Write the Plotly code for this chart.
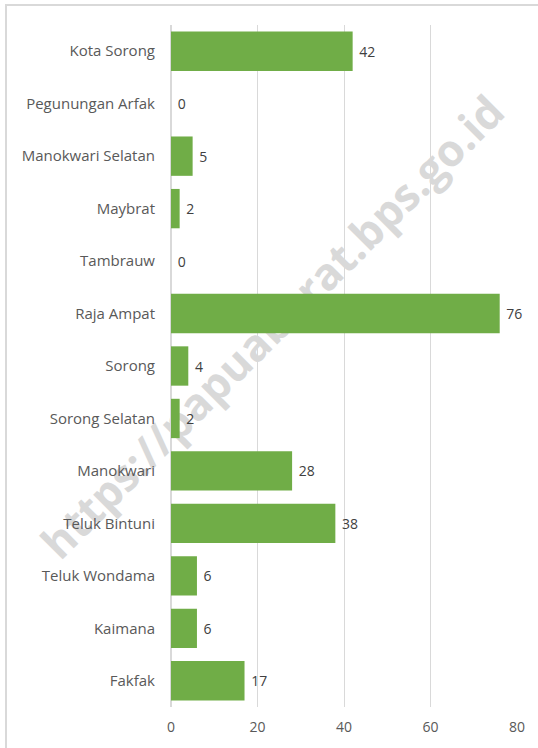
import plotly.graph_objects as go

kabupaten = ['Kota Sorong', 'Pegunungan Arfak', 'Manokwari Selatan', 'Maybrat', 'Tambrauw',
             'Raja Ampat', 'Sorong', 'Sorong Selatan', 'Manokwari', 'Teluk Bintuni',
             'Teluk Wondama', 'Kaimana', 'Fakfak']
jumlah = [42, 0, 5, 2, 0, 76, 4, 2, 28, 38, 6, 6, 17]
x_ticks = [0, 20, 40, 60, 80]

W, H = 538, 748
L, R, T, B = 171, 21, 25, 41
pw, ph = W - L - R, H - T - B


def px2paper(x, y):
    return (x - L) / pw, (H - B - y) / ph


fig = go.Figure(go.Bar(
    x=jumlah, y=kabupaten, orientation='h',
    marker=dict(color='#70ad47', line=dict(color='#ffffff', width=0)),
    text=jumlah, texttemplate=' %{text}', textposition='outside', cliponaxis=False,
    textfont=dict(size=14, color='#404040'),
))

fig.update_layout(
    width=W, height=H,
    margin=dict(l=L, r=R, t=T, b=B, autoexpand=False),
    paper_bgcolor='white', plot_bgcolor='rgba(0,0,0,0)',
    font=dict(family='Open Sans', size=14, color='#595959'),
    bargap=0.25, showlegend=False,
    xaxis=dict(range=[0, 80], tickvals=x_ticks, showgrid=True, gridcolor='#d9d9d9',
               gridwidth=1, zeroline=True, zerolinecolor='#d9d9d9', showline=False,
               automargin=False, ticklabelstandoff=10,
               tickfont=dict(size=14, color='#595959')),
    yaxis=dict(autorange='reversed', showgrid=False, automargin=False, ticklabelstandoff=15,
               tickfont=dict(size=15, color='#595959')),
)

# bingkai grafik
x0, y0 = px2paper(6, H + 5)
x1, y1 = px2paper(W + 5, 5)
fig.add_shape(type='rect', xref='paper', yref='paper', x0=x0, x1=x1, y0=y0, y1=y1,
              line=dict(color='#d9d9d9', width=2), fillcolor='rgba(0,0,0,0)', layer='below')

# watermark (di bawah batang)
wx0, wy0 = px2paper(60, 581)
wx1, wy1 = px2paper(530, 124)
fig.add_shape(type='line', xref='paper', yref='paper', x0=wx0, y0=wy0, x1=wx1, y1=wy1,
              line=dict(color='rgba(0,0,0,0)', width=0), layer='below',
              label=dict(text='https://papuabarat.bps.go.id', textposition='middle',
                         textangle=-45,
                         font=dict(family='Open Sans', size=44, color='#d9d9d9',
                                   weight='bold')))

fig.write_html('out.html', config={'displayModeBar': False},
               post_script="document.body.style.margin='0';")
